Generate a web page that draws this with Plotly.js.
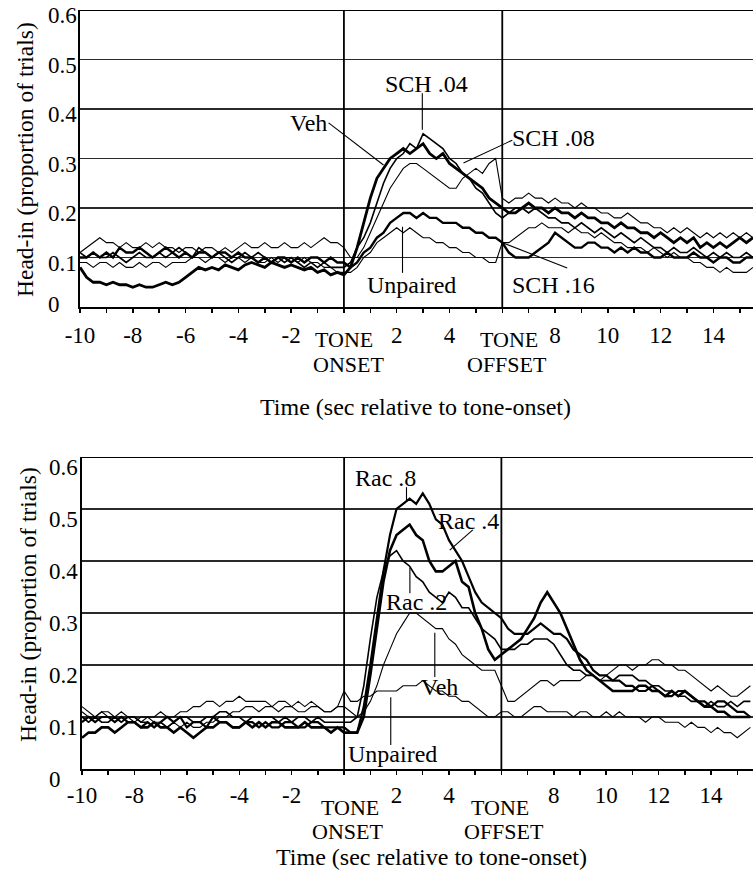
<!DOCTYPE html>
<html><head><meta charset="utf-8">
<script src="https://cdn.plot.ly/plotly-3.0.1.min.js"></script>
<style>html,body{margin:0;padding:0;background:#fff}#chart{width:753px;height:876px}</style>
</head><body><div id="chart"></div>
<script>
// time (sec relative to tone onset), 0.25 s samples
const time = [-10,-9.75,-9.5,-9.25,-9,-8.75,-8.5,-8.25,-8,-7.75,-7.5,-7.25,-7,-6.75,-6.5,-6.25,-6,-5.75,-5.5,-5.25,
  -5,-4.75,-4.5,-4.25,-4,-3.75,-3.5,-3.25,-3,-2.75,-2.5,-2.25,-2,-1.75,-1.5,-1.25,-1,-0.75,-0.5,-0.25,0,
  0.25,0.5,0.75,1,1.25,1.5,1.75,2,2.25,2.5,2.75,3,3.25,3.5,3.75,4,4.25,4.5,4.75,5,5.25,5.5,5.75,
  6,6.25,6.5,6.75,7,7.25,7.5,7.75,8,8.25,8.5,8.75,9,9.25,9.5,9.75,10,10.25,10.5,10.75,
  11,11.25,11.5,11.75,12,12.25,12.5,12.75,13,13.25,13.5,13.75,14,14.25,14.5,14.75,15,15.25,15.5];

// ---- Top panel (SCH) ----
const topVeh = [.08,.06,.05,.05, .045,.05,.045,.045, .04,.045,.04,.04, .045,.05,.045,.05, .06,.07,.08,.075,
  .08,.075,.085,.08, .075,.085,.09,.085, .08,.09,.085,.08, .085,.08,.075,.08, .07,.075,.065,.07, .065,
  .08,.12,.17, .22,.26,.28,.30, .31,.32,.31,.32, .33,.31,.30,.31, .29,.28,.27,.26, .25,.24,.22,.21,
  .20,.19,.19,.20, .21,.20,.20,.19, .20,.19,.19,.18, .19,.18,.18,.17, .17,.16,.17,.16,
  .16,.15,.15,.14, .15,.14,.13,.14, .13,.14,.12,.13, .12,.13,.12,.13, .14,.13,.14];
const topSch04 = [.11,.10,.11,.10, .10,.11,.10,.09, .10,.11,.10,.10, .11,.10,.11,.12, .11,.10,.12,.11,
  .10,.11,.10,.09, .10,.11,.10,.11, .10,.09,.10,.09, .10,.09,.08,.09, .08,.09,.08,.08, .08,
  .09,.12,.14, .17,.21,.25,.28, .30,.31,.33,.32, .35,.34,.33,.32, .30,.29,.27,.26, .24,.23,.21,.19,
  .18,.19,.20,.20, .19,.20,.19,.18, .18,.17,.17,.16, .17,.16,.15,.16, .15,.14,.15,.14,
  .13,.14,.13,.12, .12,.11,.12,.11, .11,.12,.11,.10, .11,.10,.11,.10, .10,.11,.10];
const topSch08 = [.11,.12,.13,.14, .13,.13,.12,.13, .12,.12,.13,.12, .13,.12,.12,.11, .12,.12,.11,.12,
  .12,.11,.12,.11, .12,.13,.12,.12, .13,.12,.12,.13, .12,.12,.13,.12, .13,.14,.13,.13, .12,
  .10,.10,.12, .15,.18,.21,.24, .26,.28,.29,.29, .28,.27,.26,.25, .24,.24,.26,.27, .28,.27,.29,.30,
  .22,.21,.22,.22, .23,.22,.22,.21, .22,.21,.21,.20, .21,.20,.20,.19, .19,.18,.18,.19,
  .18,.17,.17,.16, .16,.15,.16,.15, .16,.15,.14,.15, .14,.15,.14,.15, .14,.15,.14];
const topSch16 = [.10,.10,.11,.10, .11,.10,.12,.11, .11,.12,.11,.10, .11,.12,.11,.10, .11,.10,.11,.11,
  .10,.11,.11,.10, .11,.10,.10,.09, .10,.09,.10,.10, .09,.10,.09,.10, .10,.09,.10,.09, .09,
  .08,.09,.11, .12,.14,.15,.17, .18,.19,.19,.18, .19,.18,.18,.17, .17,.17,.16,.16, .15,.15,.14,.14,
  .13,.11,.10,.10, .10,.11,.12,.13, .15,.14,.13,.12, .12,.13,.13,.12, .12,.11,.12,.11,
  .12,.11,.11,.10, .10,.11,.10,.10, .10,.11,.10,.10, .09,.10,.10,.09, .09,.10,.10];
const topUnpaired = [.09,.09,.08,.09, .09,.08,.09,.08, .08,.09,.08,.09, .09,.08,.09,.09, .09,.10,.10,.09,
  .10,.10,.09,.10, .10,.09,.10,.09, .09,.10,.09,.10, .10,.09,.10,.09, .09,.08,.08,.07, .07,
  .07,.08,.10, .11,.13,.14,.15, .16,.15,.16,.15, .14,.14,.13,.13, .12,.12,.11,.11, .10,.10,.09,.09,
  .13,.13,.14,.15, .16,.16,.17,.16, .16,.16,.15,.16, .15,.15,.14,.15, .14,.13,.13,.12,
  .12,.12,.11,.12, .11,.10,.11,.10, .10,.09,.09,.08, .08,.07,.08,.07, .07,.07,.08];

// ---- Bottom panel (Rac) ----
const botRac8 = [.09,.10,.09,.10, .10,.09,.10,.09, .09,.08,.09,.08, .09,.10,.09,.10, .08,.09,.09,.08,
  .10,.09,.09,.08, .08,.09,.09,.08, .09,.08,.08,.09, .09,.08,.08,.09, .09,.08,.08,.08, .08,
  .07,.07,.12, .20,.29,.38,.45, .50,.51,.52,.51, .53,.51,.48,.47, .44,.42,.40,.37, .34,.32,.31,.30,
  .29,.27,.26,.26, .26,.27,.28,.27, .26,.26,.25,.23, .22,.21,.19,.18, .18,.17,.17,.16,
  .16,.15,.15,.16, .15,.14,.14,.15, .15,.14,.13,.13, .12,.13,.13,.12, .11,.11,.10];
const botRac4 = [.06,.07,.07,.08, .08,.07,.08,.09, .09,.08,.08,.09, .08,.08,.07,.08, .07,.06,.07,.08,
  .08,.09,.09,.08, .08,.09,.08,.09, .08,.09,.09,.08, .08,.08,.09,.08, .08,.08,.07,.08, .07,
  .07,.07,.10, .18,.27,.36,.42, .45,.46,.47,.45, .44,.40,.38,.38, .39,.40,.36,.35, .30,.27,.23,.21,
  .22,.23,.24,.25, .27,.29,.32,.34, .32,.30,.27,.24, .21,.19,.18,.17, .16,.15,.15,.15,
  .15,.16,.16,.15, .15,.14,.15,.14, .15,.14,.13,.12, .12,.11,.11,.10, .10,.10,.10];
const botRac2 = [.10,.09,.10,.09, .09,.10,.09,.10, .10,.09,.09,.08, .09,.08,.09,.10, .10,.09,.09,.10,
  .10,.11,.11,.10, .10,.09,.10,.10, .10,.10,.09,.10, .09,.10,.10,.09, .10,.09,.09,.09, .09,
  .09,.10,.16, .25,.33,.38,.41, .42,.40,.39,.37, .36,.34,.33,.32, .34,.33,.31,.31, .29,.27,.26,.25,
  .23,.23,.23,.24, .24,.25,.25,.25, .24,.22,.20,.19, .19,.18,.18,.17, .17,.17,.18,.18,
  .18,.17,.17,.16, .16,.15,.15,.14, .14,.13,.13,.12, .13,.12,.12,.13, .12,.13,.13];
const botVeh = [.11,.10,.10,.11, .10,.10,.09,.10, .09,.10,.10,.09, .09,.08,.09,.08, .09,.08,.08,.09,
  .09,.10,.10,.11, .11,.12,.12,.11, .12,.12,.11,.12, .12,.11,.11,.12, .12,.11,.11,.12, .12,
  .11,.10,.11, .13,.16,.20,.23, .26,.28,.30,.30, .29,.28,.27,.27, .25,.24,.22,.21, .20,.19,.19,.19,
  .16,.13,.13,.14, .15,.16,.17,.17, .16,.17,.17,.17, .17,.18,.18,.17, .18,.19,.20,.20,
  .19,.20,.20,.21, .21,.20,.20,.19, .19,.18,.17,.16, .15,.16,.15,.14, .14,.15,.16];
const botUnpaired = [.12,.11,.10,.11, .11,.10,.11,.10, .10,.09,.10,.10, .11,.10,.10,.11, .11,.12,.12,.13,
  .13,.12,.13,.13, .14,.13,.13,.13, .13,.12,.13,.13, .12,.13,.12,.13, .12,.11,.11,.12, .15,
  .13,.13,.14, .14,.15,.15,.15, .15,.16,.16,.16, .17,.16,.15,.15, .14,.14,.13,.13, .12,.11,.10,.10,
  .11,.11,.10,.10, .11,.12,.12,.11, .11,.11,.11,.10, .11,.11,.10,.10, .11,.10,.11,.10,
  .10,.10,.09,.10, .10,.09,.09,.09, .08,.09,.08,.08, .07,.08,.07,.07, .06,.07,.08];

// tick labels
const xTickVals = [-10,-9,-8,-7,-6,-5,-4,-3,-2,-1,0,1,2,3,4,5,6,7,8,9,10,11,12,13,14,15];
const xTickText = ['-10','','-8','','-6','','-4','','-2','','','','2','','4','','','','8','','10','','12','','14',''];
const yTickVals = [0,0.1,0.2,0.3,0.4,0.5,0.6];
const yTickText = ['0','0.1','0.2','0.3','0.4','0.5','0.6'];

const FONT = 'Liberation Serif, Times New Roman, serif';
const K = '#000';

function tr(y, xa, ya, w, name){
  return {x: time, y: y, xaxis: xa, yaxis: ya, type: 'scatter', mode: 'lines', name: name,
    line: {color: K, width: w}, showlegend: false, hoverinfo: 'skip'};
}
const data = [
  tr(topUnpaired,'x','y',1.1,'Unpaired'),
  tr(topSch08,'x','y',1.1,'SCH .08'),
  tr(topSch04,'x','y',1.6,'SCH .04'),
  tr(topSch16,'x','y',2.4,'SCH .16'),
  tr(topVeh,'x','y',2.8,'Veh'),
  tr(botUnpaired,'x2','y2',1.1,'Unpaired'),
  tr(botVeh,'x2','y2',1.1,'Veh'),
  tr(botRac2,'x2','y2',1.6,'Rac .2'),
  tr(botRac4,'x2','y2',2.6,'Rac .4'),
  tr(botRac8,'x2','y2',2.2,'Rac .8')
];

function xax(domain, range, standoff){
  return {domain: domain, range: range, tickvals: xTickVals, ticktext: xTickText,
    ticks: 'outside', ticklen: 4, tickwidth: 1.5, tickcolor: K, showgrid: false, zeroline: false,
    showline: true, linecolor: K, linewidth: 2, ticklabelstandoff: standoff,
    tickfont: {family: FONT, size: 23, color: K}, fixedrange: true};
}
function yax(domain, anchor){
  return {domain: domain, range: [0, 0.6], anchor: anchor, tickvals: yTickVals, showticklabels: false,
    ticks: '', showgrid: true, gridcolor: '#2a2a2a', gridwidth: 1.5, zeroline: false,
    showline: true, linecolor: K, linewidth: 2, fixedrange: true};
}

const shapes = [];
function vline(xr, yr, xv){ shapes.push({type:'line', xref:xr, yref:yr, x0:xv, x1:xv, y0:0, y1:0.6, line:{color:K, width:1.8}}); }
function hline(xr, yr, yv){ shapes.push({type:'line', xref:xr, yref:yr, x0:-10, x1:16, y0:yv, y1:yv, line:{color:K, width:2}}); }
function lead(xr, yr, x0, y0, x1, y1){ shapes.push({type:'line', xref:xr, yref:yr, x0:x0, y0:y0, x1:x1, y1:y1, line:{color:K, width:1.1}}); }
vline('x','y',0); vline('x','y',6); hline('x','y',0.6);
vline('x2','y2',0); vline('x2','y2',6); hline('x2','y2',0.6);
// leaders top
lead('x','y',2.97,0.432,2.97,0.358);
lead('x','y',-0.58,0.372,1.5,0.287);
lead('x','y',6.38,0.337,4.53,0.291);
lead('x','y',2.22,0.069,2.22,0.162);
lead('x','y',8.46,0.079,6.05,0.129);
// leaders bottom
lead('x2','y2',2.38,0.542,2.38,0.517);
lead('x2','y2',4.91,0.46,4.03,0.421);
lead('x2','y2',2.51,0.338,2.51,0.387);
lead('x2','y2',3.46,0.177,3.46,0.262);
lead('x2','y2',1.78,0.046,1.78,0.138);

const ann = [];
function lab(xr, yr, x, y, text, size){
  ann.push({xref:xr, yref:yr, x:x, y:y, text:text, showarrow:false, xanchor:'center', yanchor:'middle',
    font:{family:FONT, size:size||24, color:K}});
}
// y tick labels (left aligned, as in the original figure)
yTickVals.forEach(function(v, i){
  ann.push({xref:'paper', yref:'y', x:46/753, y:v, text:yTickText[i], showarrow:false, xanchor:'left', yanchor:'middle',
    yshift: (v === 0 ? 3 : -6), font:{family:FONT, size:23, color:K}});
  ann.push({xref:'paper', yref:'y2', x:47/753, y:v, text:yTickText[i], showarrow:false, xanchor:'left', yanchor:'middle',
    yshift: -10, font:{family:FONT, size:23, color:K}});
});
// series labels top
lab('x','y',3.13,0.45,'SCH .04');
lab('x','y',-1.34,0.372,'Veh');
lab('x','y',7.94,0.341,'SCH .08');
lab('x','y',2.56,0.044,'Unpaired');
lab('x','y',7.94,0.044,'SCH .16');
// series labels bottom
lab('x2','y2',1.59,0.56,'Rac .8');
lab('x2','y2',4.76,0.477,'Rac .4');
lab('x2','y2',2.77,0.321,'Rac .2');
lab('x2','y2',3.65,0.158,'Veh');
lab('x2','y2',1.86,0.029,'Unpaired');
// tone labels (paper y)
function py(px){ return 1 - px/876; }
lab('x','paper',0.0,py(340),'TONE',22);
lab('x','paper',0.16,py(364),'ONSET',22);
lab('x','paper',6.26,py(340),'TONE',22);
lab('x','paper',6.18,py(364),'OFFSET',22);
lab('x2','paper',0.22,py(807),'TONE',22);
lab('x2','paper',0.14,py(831),'ONSET',22);
lab('x2','paper',5.94,py(807),'TONE',22);
lab('x2','paper',6.1,py(831),'OFFSET',22);
// axis titles
ann.push({xref:'paper', yref:'paper', x:416/753, y:py(407), text:'Time (sec relative to tone-onset)', showarrow:false,
  xanchor:'center', yanchor:'middle', font:{family:FONT, size:24, color:K}});
ann.push({xref:'paper', yref:'paper', x:431/753, y:py(857), text:'Time (sec relative to tone-onset)', showarrow:false,
  xanchor:'center', yanchor:'middle', font:{family:FONT, size:24, color:K}});
ann.push({xref:'paper', yref:'paper', x:25/753, y:py(160), text:'Head-in (proportion of trials)', showarrow:false, textangle:-90,
  xanchor:'center', yanchor:'middle', font:{family:FONT, size:23.5, color:K}});
ann.push({xref:'paper', yref:'paper', x:28/753, y:py(605), text:'Head-in (proportion of trials)', showarrow:false, textangle:-90,
  xanchor:'center', yanchor:'middle', font:{family:FONT, size:23.5, color:K}});

const layout = {
  width: 753, height: 876, margin: {l:0, r:0, t:0, b:0}, paper_bgcolor:'#fff', plot_bgcolor:'#fff',
  showlegend: false,
  xaxis: Object.assign(xax([80/753, 1], [-10, 15.5], 2), {anchor:'y'}),
  yaxis: yax([1-307/876, 1-10/876], 'x'),
  xaxis2: Object.assign(xax([82/753, 1], [-10, 15.6], 0), {anchor:'y2'}),
  yaxis2: yax([1-769/876, 1-457/876], 'x2'),
  shapes: shapes, annotations: ann
};
Plotly.newPlot('chart', data, layout, {staticPlot: true, displayModeBar: false});
</script></body></html>
